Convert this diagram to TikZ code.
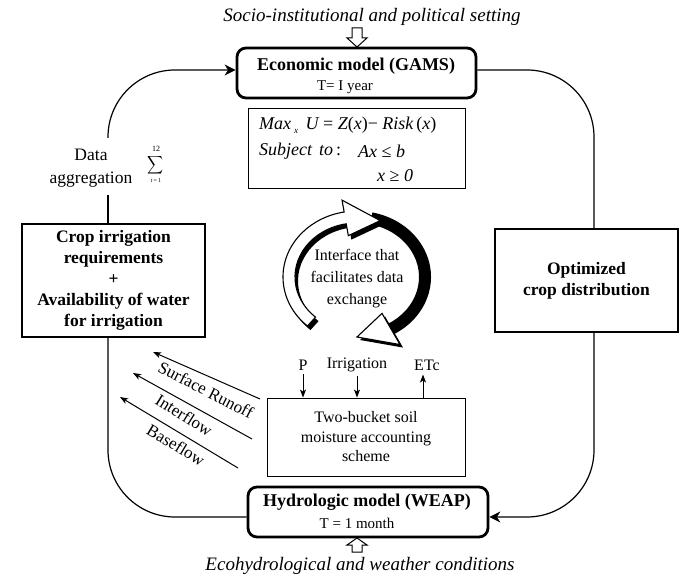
\documentclass[tikz,border=0pt]{standalone}
\usepackage{fontspec}
\setmainfont{Liberation Serif}
\usetikzlibrary{arrows.meta,calc}
\newcommand{\bfont}{\fontsize{17.5}{21}\selectfont\bfseries}
\def\ROx{74}\def\ROy{66}\def\RIx{62}\def\RIy{54}\def\RMx{68}\def\RMy{60}\def\HW{18}
\newcommand{\ringbody}[3]{%
  \path[#3] ({\ROx*cos(#1)},{\ROy*sin(#1)}) arc[start angle=#1,end angle=#2,x radius=\ROx,y radius=\ROy]
    -- ({\RIx*cos(#2)},{\RIy*sin(#2)}) arc[start angle=#2,end angle=#1,x radius=\RIx,y radius=\RIy] -- cycle;}
\newcommand{\ringhead}[3]{%
  \path[#3] ({(\RMx+\HW)*cos(#1)},{(\RMy+\HW)*sin(#1)}) -- ({\RMx*cos(#2)},{\RMy*sin(#2)})
    -- ({(\RMx-\HW)*cos(#1)},{(\RMy-\HW)*sin(#1)}) -- cycle;}
\newcommand{\ringfull}[4]{%
  \path[#4] ({\ROx*cos(#1)},{\ROy*sin(#1)}) arc[start angle=#1,end angle=#2,x radius=\ROx,y radius=\ROy]
    -- ({(\RMx+\HW)*cos(#2)},{(\RMy+\HW)*sin(#2)}) -- ({\RMx*cos(#3)},{\RMy*sin(#3)})
    -- ({(\RMx-\HW)*cos(#2)},{(\RMy-\HW)*sin(#2)})
    -- ({\RIx*cos(#2)},{\RIy*sin(#2)}) arc[start angle=#2,end angle=#1,x radius=\RIx,y radius=\RIy] -- cycle;}
\begin{document}
\begin{tikzpicture}[x=1pt,y=-1pt,
  thickbox/.style={draw,line width=2.8pt,rounded corners=9pt,minimum width=239pt,minimum height=50pt,inner sep=0pt},
  medbox/.style={draw,line width=1.8pt,inner sep=0pt,align=center,font=\bfont},
  thinbox/.style={draw,line width=0.9pt,inner sep=0pt},
  conn/.style={line width=1.2pt},
  tip/.style={-{Stealth[length=11pt,width=11pt,inset=3.5pt]}},
  flow/.style={line width=1pt,-{Stealth[length=8pt,width=6pt,inset=2pt]}},
  lbl/.style={inner sep=0pt},
  titlef/.style={lbl,font=\fontsize{18}{20}\selectfont\bfseries},
  subf/.style={lbl,font=\fontsize{15}{18}\selectfont},
  itf/.style={lbl,font=\fontsize{19}{22}\selectfont\itshape},
  formf/.style={lbl,anchor=west,font=\fontsize{18}{21}\selectfont\itshape},
  flowf/.style={lbl,font=\fontsize{17}{20}\selectfont},
  blockarrow/.style={draw,line width=1pt,fill=white,line join=miter},
  ringline/.style={draw=black,fill=white,line width=1.1pt,line join=miter}
]
\useasboundingbox (0,0) rectangle (683,577);

% Economic model
\node[thickbox] (econ) at (356.5,73) {};
\node[titlef] (econT) at (356,66) {Economic model (GAMS)};
\node[subf] (econS) at (345,87) {T= I year};

% formula box
\node[thinbox,minimum width=217pt,minimum height=80pt] (form) at (356.5,148) {};
\node[formf] (f1) at (259,125) {Max\,\raisebox{-4pt}{\fontsize{9}{9}\selectfont x}\, U {\upshape =} Z{\upshape(}x{\upshape)}{\upshape −} Risk\,{\upshape(}x{\upshape)}};
\node[formf] (f2) at (259,151) {Subject\hspace{7pt}to{\upshape\,:}};
\node[formf] (f3) at (358,151) {Ax {\upshape ≤} b};
\node[formf] (f4) at (377,176) {x {\upshape ≥} 0};

% ring of arrows
\begin{scope}[shift={(357,277)},yscale=-1]
  \ringbody{78}{-60}{fill=black}
  \ringhead{-60}{-90}{fill=black,shift={(3,-3)}}
  \ringhead{-60}{-90}{ringline}
  \ringfull{228}{100}{70}{fill=black,shift={(3,-4)}}
  \ringfull{228}{100}{70}{ringline}
\end{scope}
\node[lbl,align=center,font=\fontsize{16}{22}\selectfont] (iface) at (357,279) {Interface that\\facilitates data\\exchange};

% data aggregation
\node[lbl,align=center,font=\fontsize{17.5}{23}\selectfont] (agg) at (91,168) {Data\\aggregation};
\node[lbl] (sig) at (155,165) {\resizebox*{16pt}{20pt}{$\displaystyle\sum$}};
\node[lbl,font=\fontsize{8}{8}\selectfont] (sigU) at (156,149) {12};
\node[lbl,font=\fontsize{6}{6}\selectfont] (sigL) at (156,181) {\textit{t}\,=\,1};

% side boxes
\node[medbox,minimum width=183pt,minimum height=113pt] (crop) at (113.5,280.5) {Crop irrigation\\requirements\\+\\Availability of water\\for irrigation};
\node[medbox,minimum width=183pt,minimum height=103pt] (opt) at (586.5,280.5) {Optimized\\crop distribution};

% bucket
\node[thinbox,minimum width=198pt,minimum height=78pt,align=center,font=\fontsize{16}{19.5}\selectfont] (bucket) at (366,437) {Two-bucket soil\\moisture accounting\\scheme};
\node[lbl,font=\fontsize{16}{18}\selectfont] (P) at (303,365) {P};
\node[lbl,font=\fontsize{16}{18}\selectfont] (irr) at (357,365) {Irrigation};
\node[lbl,font=\fontsize{16}{18}\selectfont] (etc) at (427,365) {ETc};
\draw[flow] ([yshift=-4pt]P.south) -- (P.south |- bucket.north);
\draw[flow] ([yshift=-4pt]irr.south) -- (irr.south |- bucket.north);
\draw[flow] ([xshift=-4pt]etc.south |- bucket.north) -- ([xshift=-4pt,yshift=-4pt]etc.south);

% hydrologic model
\node[thickbox,minimum width=240pt] (hydro) at (368,512) {};
\node[titlef] (hydT) at (367,502) {Hydrologic model (WEAP)};
\node[subf] (hydS) at (357,523) {T = 1 month};

% outer settings
\node[itf] (soc) at (372,17) {Socio-institutional and political setting};
\node[itf] (ecoh) at (360,566) {Ecohydrological and weather conditions};
\draw[blockarrow] (352,28) -- (362,28) -- (362,38) -- (367,38) -- (357,47) -- (347,38) -- (352,38) -- cycle;
\draw[blockarrow] (352,552) -- (362,552) -- (362,545) -- (367,545) -- (357,538) -- (347,545) -- (352,545) -- cycle;

% flows
\coordinate (sr1) at (260,399); \coordinate (sr0) at (153,352);
\coordinate (if1) at (252,439); \coordinate (if0) at (133,373);
\coordinate (bf1) at (238,468); \coordinate (bf0) at (120,397);
\draw[flow] (sr1) -- (sr0);
\draw[flow] (if1) -- (if0);
\draw[flow] (bf1) -- (bf0);
\node[flowf,rotate=-27] (srl) at (206,390) {Surface Runoff};
\node[flowf,rotate=-32] (ifl) at (184,415) {Interflow};
\node[flowf,rotate=-31] (bfl) at (176,445) {Baseflow};

% main loop
\coordinate (aggTop) at (108,138);
\coordinate (aggBot) at (108,195);
\coordinate (rline) at (594,0);
\draw[conn] (aggBot |- crop.north) -- (aggBot);
\draw[conn,tip,rounded corners=67pt] (aggTop) |- ([yshift=3pt]econ.west);
\draw[conn,rounded corners=67pt] ([yshift=3pt]econ.east) -| (rline |- opt.north);
\draw[conn,tip,rounded corners=67pt] (rline |- opt.south) |- ([yshift=-5pt]hydro.east);
\draw[conn,rounded corners=67pt] ([yshift=-5pt]hydro.west) -| (aggBot |- crop.south);
\end{tikzpicture}
\end{document}
